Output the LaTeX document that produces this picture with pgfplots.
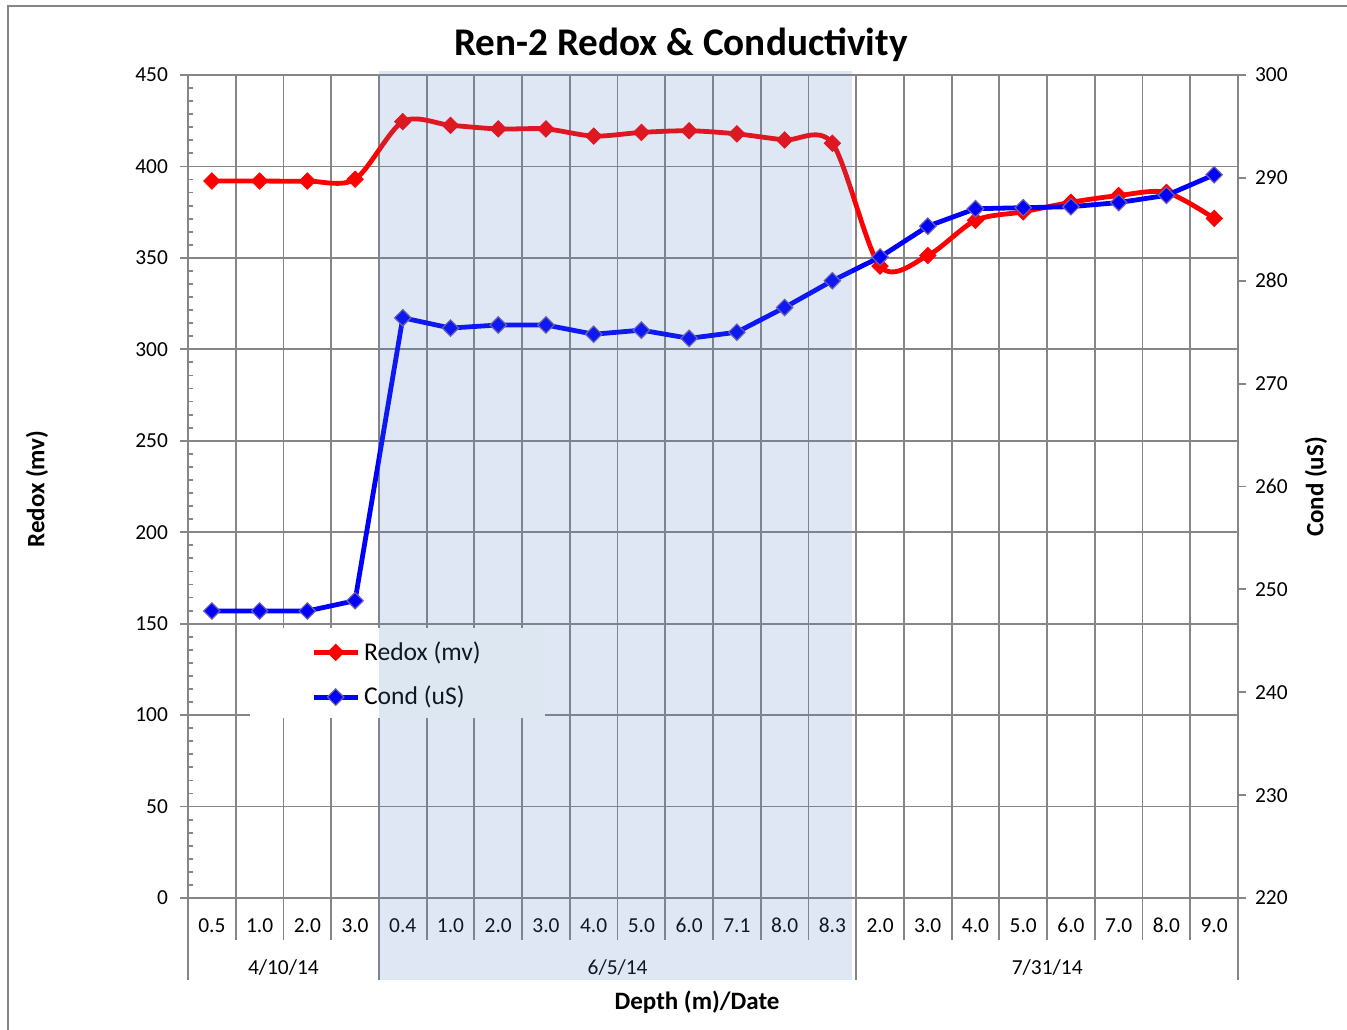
\documentclass[border=0pt]{standalone}
\usepackage{pgfplots}
\pgfplotsset{compat=1.18}
\usepackage{fontspec}
\setmainfont{Carlito}
\definecolor{gridc}{RGB}{134,134,134}
\definecolor{redl}{RGB}{255,0,0}
\definecolor{bluel}{RGB}{0,0,255}
\definecolor{blueedge}{RGB}{112,92,170}
\definecolor{shadec}{RGB}{79,129,189}
\newcommand{\tickfont}{\fontsize{10.7}{12}\selectfont}
\pgfplotsset{
  common/.style={
    at={(94pt,65.5pt)}, anchor=south west,
    scale only axis, width=525pt, height=411.5pt,
    xmin=-0.5, xmax=21.5,
    axis line style={gridc, line width=0.9pt},
    tick align=outside, major tick length=4pt, minor tick length=2.5pt,
    /pgf/number format/assume math mode=true,
    ticklabel style={font=\tickfont},
    legend image code/.code={\draw[mark repeat=2,mark phase=2,##1] plot coordinates {(0pt,0pt) (11pt,0pt) (22pt,0pt)};},
  },
  redstyle/.style={color=redl, line width=2.4pt, mark=square*, mark size=2.9pt,
    mark options={rotate=45, solid, fill=redl, draw=redl, line width=0.4pt}},
  bluestyle/.style={color=bluel, line width=2.4pt, mark=square*, mark size=2.9pt,
    mark options={rotate=45, solid, fill=bluel, draw=blueedge, line width=0.6pt}},
}
\begin{document}
\begin{tikzpicture}
\useasboundingbox (0,0) rectangle (673.5pt,514.5pt);
\draw[gridc, line width=1pt] (4pt,-2pt) -- (4pt,511.5pt) -- (676pt,511.5pt);

\begin{axis}[common,
  ymin=0, ymax=450,
  xtick={0,...,21},
  xticklabels={0.5,1.0,2.0,3.0,0.4,1.0,2.0,3.0,4.0,5.0,6.0,7.1,8.0,8.3,2.0,3.0,4.0,5.0,6.0,7.0,8.0,9.0},
  major x tick style={draw=none},
  minor xtick={0.5,1.5,...,20.5},
  minor x tick style={draw=none},
  xminorgrids,
  xticklabel style={anchor=base, yshift=-13.3pt},
  yticklabel style={xshift=-2.5pt},
  ytick={0,50,...,450},
  ymajorgrids,
  minor y tick num=6,
  ytick pos=left, xtick pos=bottom,
  y tick style={gridc, line width=0.9pt},
  minor y tick style={xshift=2.5pt},
  grid style={gridc, line width=0.9pt},
  minor grid style={gridc, line width=0.9pt},
  axis x line*=bottom, axis y line*=left,
]
\addplot[redstyle, smooth, tension=0.5] coordinates {
(0,392) (1,392) (2,392) (3,393) (4,424.5) (5,422.5) (6,420.5) (7,420.5)
(8,416.6) (9,418.6) (10,419.5) (11,417.8) (12,414.5) (13,412.7)
(14,345.5) (15,351.3) (16,370.5) (17,375.2) (18,380.4) (19,384.1) (20,385.8) (21,371.6)};
\draw[gridc, line width=0.9pt] (rel axis cs:0,1) -- (rel axis cs:1,1);
\end{axis}

% legend white box
\fill[white] (125pt,155.5pt) rectangle (272.5pt,200.5pt);

\begin{axis}[common,
  ymin=220, ymax=300,
  axis y line*=right, axis x line=none,
  ytick={220,230,...,300},
  yticklabel style={xshift=1pt},
  y tick style={gridc, line width=0.9pt},
  legend style={at={(rel axis cs:0.117,0.317)}, anchor=north west, draw=none, fill=none,
    font=\fontsize{12.8}{14}\selectfont, legend cell align=left, row sep=7.5pt,
    inner sep=0pt, column sep=0pt},
]
\addlegendimage{redstyle}
\addlegendentry{Redox (mv)}
\addplot[bluestyle] coordinates {
(0,247.9) (1,247.9) (2,247.9) (3,248.9) (4,276.4) (5,275.4) (6,275.7) (7,275.7)
(8,274.8) (9,275.2) (10,274.4) (11,275.0) (12,277.4) (13,280.0)
(14,282.3) (15,285.3) (16,287.0) (17,287.1) (18,287.2) (19,287.6) (20,288.3) (21,290.3)};
\addlegendentry{Cond (uS)}
\end{axis}

% separators below the axis
\foreach \k in {1,2,3,5,6,7,8,9,10,11,12,13,15,16,17,18,19,20,21}
  \draw[gridc, line width=0.9pt] ({94pt+\k*23.8636pt},65.5pt) -- ({94pt+\k*23.8636pt},44.5pt);
\foreach \k in {0,4,14,22}
  \draw[gridc, line width=0.9pt] ({94pt+\k*23.8636pt},65.5pt) -- ({94pt+\k*23.8636pt},24.5pt);

% date labels
\node[anchor=base, font=\tickfont, inner sep=0pt] at (141.7pt,27.2pt) {4/10/14};
\node[anchor=base, font=\tickfont, inner sep=0pt] at (308.8pt,27.2pt) {6/5/14};
\node[anchor=base, font=\tickfont, inner sep=0pt] at (523.6pt,27.2pt) {7/31/14};

% shading overlay
\fill[shadec, opacity=0.19] (189.5pt,24.5pt) rectangle (426pt,479pt);

% titles
\node[font=\fontsize{19.6}{22}\selectfont\bfseries, inner sep=0pt] at (340.5pt,492pt) {Ren-2 Redox \& Conductivity};
\node[font=\fontsize{12.5}{14}\selectfont\bfseries, rotate=90, inner sep=0pt] at (18.5pt,270pt) {Redox (mv)};
\node[font=\fontsize{12.5}{14}\selectfont\bfseries, rotate=90, inner sep=0pt] at (658pt,271pt) {Cond (uS)};
\node[font=\fontsize{12.5}{14}\selectfont\bfseries, inner sep=0pt] at (348.5pt,13.5pt) {Depth (m)/Date};
\end{tikzpicture}
\end{document}
